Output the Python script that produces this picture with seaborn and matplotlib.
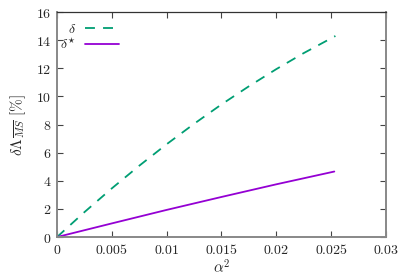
import matplotlib
matplotlib.use("Agg")
import matplotlib.pyplot as plt
import seaborn as sns
import pandas as pd

# data
alpha2_delta = [0.0, 0.0025, 0.005, 0.0075, 0.01, 0.0125, 0.015, 0.0175, 0.02, 0.0225, 0.0254]
delta_vals = [0.0, 1.77, 3.46, 5.07, 6.6, 8.05, 9.43, 10.72, 11.94, 13.08, 14.3]
alpha2_star = [0.0, 0.005, 0.01, 0.015, 0.02, 0.0253]
star_vals = [0.0, 0.97, 1.93, 2.85, 3.75, 4.66]
xticks = [0, 0.005, 0.01, 0.015, 0.02, 0.025, 0.03]
xtick_labels = ["0", "0.005", "0.01", "0.015", "0.02", "0.025", "0.03"]
yticks = [0, 2, 4, 6, 8, 10, 12, 14, 16]

sns.set_style("ticks")
plt.rcParams["mathtext.fontset"] = "cm"
plt.rcParams["font.family"] = ["DejaVu Serif"]

df = pd.concat([
    pd.DataFrame({"x": alpha2_delta, "y": delta_vals, "s": r"$\delta$"}),
    pd.DataFrame({"x": alpha2_star, "y": star_vals, "s": r"$\delta^{\star}$"}),
])

fig = plt.figure(figsize=(4.07, 2.75), dpi=100)
ax = fig.add_axes([0.140, 0.138, 0.808, 0.818])

sns.lineplot(data=df, x="x", y="y", hue="s", style="s",
             palette={r"$\delta$": "#009e73", r"$\delta^{\star}$": "#9400d3"},
             dashes={r"$\delta$": (5.5, 4.5), r"$\delta^{\star}$": ""},
             linewidth=1.3, ax=ax, sort=False)

ax.set_xlim(0, 0.03)
ax.set_ylim(0, 16)
ax.set_xticks(xticks)
ax.set_xticklabels([f"${t}$" for t in xtick_labels])
ax.set_yticks(yticks)
ax.set_yticklabels([f"${t}$" for t in yticks])
ax.tick_params(direction="in", top=True, right=True, length=4, width=0.8,
               labelsize=10, color="#444444", pad=4)
for side in ["left", "bottom", "right"]:
    ax.spines[side].set_linewidth(1.4)
    ax.spines[side].set_color("#888888")
ax.spines["top"].set_linewidth(0.9)
ax.spines["top"].set_color("#333333")
for sp in ax.spines.values():
    sp.set_visible(True)

ax.set_xlabel(r"$\alpha^2$", fontsize=11, labelpad=1)
ax.set_ylabel(r"$\delta\Lambda_{\overline{MS}}\ [\%]$", fontsize=11, labelpad=6)

leg = ax.legend(loc="upper left", frameon=False, markerfirst=False,
                fontsize=10, handlelength=2.5, handletextpad=0.6,
                labelspacing=0.05, borderaxespad=0.3,
                bbox_to_anchor=(-0.02, 1.0))
for t in leg.get_texts():
    t.set_ha("right")

fig.savefig("out.png", dpi=100)
